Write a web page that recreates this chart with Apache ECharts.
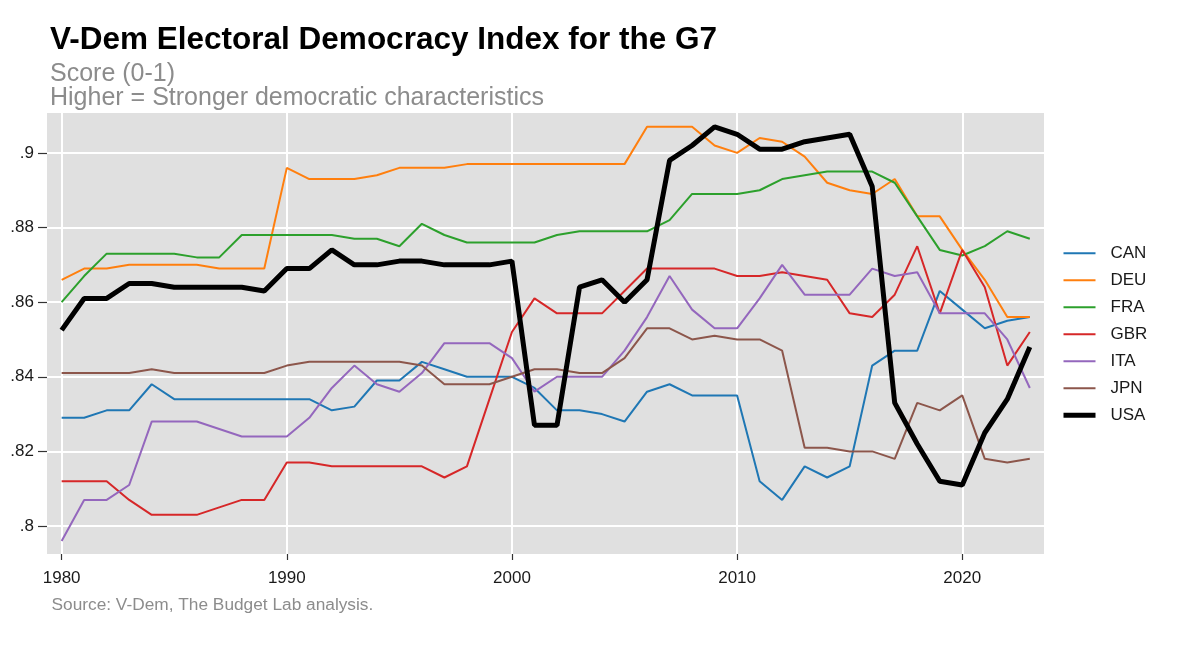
<!DOCTYPE html>
<html>
<head>
<meta charset="utf-8">
<script src="https://cdn.jsdelivr.net/npm/echarts@6/dist/echarts.min.js"></script>
<style>
html,body{margin:0;padding:0;background:#fff;}
#chart{width:1200px;height:647px;}
</style>
</head>
<body>
<div id="chart"></div>
<script>
const years = [1980,1981,1982,1983,1984,1985,1986,1987,1988,1989,1990,1991,1992,1993,1994,1995,1996,1997,1998,1999,2000,2001,2002,2003,2004,2005,2006,2007,2008,2009,2010,2011,2012,2013,2014,2015,2016,2017,2018,2019,2020,2021,2022,2023];

const CAN = [.829,.829,.831,.831,.838,.834,.834,.834,.834,.834,.834,.834,.831,.832,.839,.839,.844,.842,.840,.840,.840,.837,.831,.831,.830,.828,.836,.838,.835,.835,.835,.812,.807,.816,.813,.816,.843,.847,.847,.863,.858,.853,.855,.856];
const DEU = [.866,.869,.869,.870,.870,.870,.870,.869,.869,.869,.896,.893,.893,.893,.894,.896,.896,.896,.897,.897,.897,.897,.897,.897,.897,.897,.907,.907,.907,.902,.900,.904,.903,.899,.892,.890,.889,.893,.883,.883,.874,.866,.856,.856];
const FRA = [.860,.867,.873,.873,.873,.873,.872,.872,.878,.878,.878,.878,.878,.877,.877,.875,.881,.878,.876,.876,.876,.876,.878,.879,.879,.879,.879,.882,.889,.889,.889,.890,.893,.894,.895,.895,.895,.892,.883,.874,.8725,.875,.879,.877];
const GBR = [.812,.812,.812,.807,.803,.803,.803,.805,.807,.807,.817,.817,.816,.816,.816,.816,.816,.813,.816,.834,.852,.861,.857,.857,.857,.863,.869,.869,.869,.869,.867,.867,.868,.867,.866,.857,.856,.862,.875,.857,.874,.864,.843,.852];
const ITA = [.796,.807,.807,.811,.828,.828,.828,.826,.824,.824,.824,.829,.837,.843,.838,.836,.841,.849,.849,.849,.845,.836,.840,.840,.840,.847,.856,.867,.858,.853,.853,.861,.870,.862,.862,.862,.869,.867,.868,.857,.857,.857,.850,.837];
const JPN = [.841,.841,.841,.841,.842,.841,.841,.841,.841,.841,.843,.844,.844,.844,.844,.844,.843,.838,.838,.838,.840,.842,.842,.841,.841,.845,.853,.853,.850,.851,.850,.850,.847,.821,.821,.820,.820,.818,.833,.831,.835,.818,.817,.818];
const USA = [.8525,.861,.861,.865,.865,.864,.864,.864,.864,.863,.869,.869,.874,.870,.870,.871,.871,.870,.870,.870,.871,.827,.827,.864,.866,.860,.866,.898,.902,.907,.905,.901,.901,.903,.904,.905,.891,.833,.822,.812,.811,.825,.834,.848];

const xTicks = [1980,1990,2000,2010,2020];
const yTicks = [0.8,0.82,0.84,0.86,0.88,0.9];
const yTickLabels = ['.8','.82','.84','.86','.88','.9'];

const seriesNames = ['CAN','DEU','FRA','GBR','ITA','JPN','USA'];
const seriesData = [CAN,DEU,FRA,GBR,ITA,JPN,USA];
const colors = ['#1f77b4','#ff7f0e','#2ca02c','#d62728','#9467bd','#8c564b','#000000'];

const FONT = '"Liberation Sans", Arial, sans-serif';

const chart = echarts.init(document.getElementById('chart'), null, {renderer:'canvas'});

const lineWidthOf = name => (name === 'USA' ? 5 : 2);

const series = seriesNames.map((name, i) => ({
  name: name,
  type: 'line',
  data: years.map((y, j) => [y, seriesData[i][j]]),
  symbol: 'none',
  showSymbol: false,
  color: colors[i],
  lineStyle: { width: lineWidthOf(name), color: colors[i] },
  z: 2 + i,
  emphasis: { disabled: true }
}));

chart.setOption({
  animation: false,
  backgroundColor: '#ffffff',
  title: [
    { text: 'V-Dem Electoral Democracy Index for the G7', left: 45, top: 19,
      textStyle: { fontFamily: FONT, fontSize: 31.5, fontWeight: 'bold', color: '#000' } },
    { text: 'Score (0-1)', left: 45, top: 56.5,
      textStyle: { fontFamily: FONT, fontSize: 25, fontWeight: 'normal', color: '#8c8c8c' } },
    { text: 'Higher = Stronger democratic characteristics', left: 45, top: 80.5,
      textStyle: { fontFamily: FONT, fontSize: 25, fontWeight: 'normal', color: '#8c8c8c' } },
    { text: 'Source: V-Dem, The Budget Lab analysis.', left: 46.5, top: 592,
      textStyle: { fontFamily: FONT, fontSize: 17.3, fontWeight: 'normal', color: '#8c8c8c' } }
  ],
  grid: {
    left: 47, right: 156, top: 113, bottom: 93,
    show: true, backgroundColor: '#e0e0e0', borderWidth: 0, containLabel: false
  },
  legend: {
    orient: 'vertical',
    left: 1056, top: 239.7,
    itemWidth: 32, itemHeight: 14, itemGap: 10,
    data: seriesNames.map(n => ({ name: n, lineStyle: { width: lineWidthOf(n) } })),
    itemStyle: { color: 'rgba(0,0,0,0)', borderColor: 'rgba(0,0,0,0)', borderWidth: 0 },
    textStyle: { fontFamily: FONT, fontSize: 17, color: '#1a1a1a', padding: [0,0,0,10] },
    selectedMode: false
  },
  xAxis: {
    type: 'value',
    min: 1979.35, max: 2023.63,
    axisLine: { show: false },
    axisTick: { show: true, length: 6, lineStyle: { color: '#333', width: 1.2 }, customValues: xTicks },
    axisLabel: { customValues: xTicks, margin: 16, fontFamily: FONT, fontSize: 17, color: '#1a1a1a',
      formatter: v => String(v) },
    splitLine: { show: true, lineStyle: { color: '#ffffff', width: 2 } }
  },
  yAxis: {
    type: 'value',
    min: 0.7925, max: 0.9107,
    axisLine: { show: false },
    axisTick: { show: true, length: 9, lineStyle: { color: '#333', width: 1.2 }, customValues: yTicks },
    axisLabel: { customValues: yTicks, margin: 13, fontFamily: FONT, fontSize: 17, color: '#1a1a1a',
      formatter: v => { const k = yTicks.findIndex(t => Math.abs(t - v) < 1e-6); return k >= 0 ? yTickLabels[k] : ''; } },
    splitLine: { show: true, lineStyle: { color: '#ffffff', width: 2 } }
  },
  series: series
});
</script>
</body>
</html>
